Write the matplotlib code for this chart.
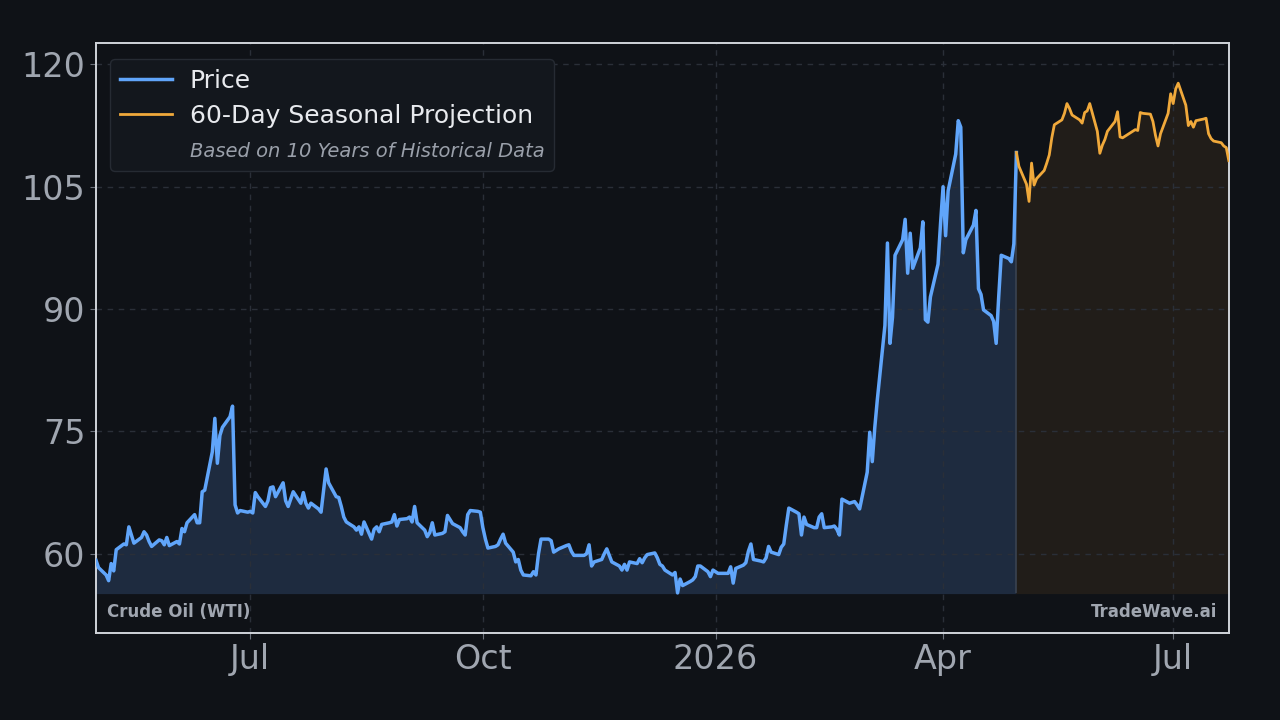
import matplotlib
matplotlib.use("Agg")
import matplotlib.pyplot as plt
import matplotlib.dates as mdates
from matplotlib.lines import Line2D
import pandas as pd

# Daily closes (business days)
price_start = "2025-05-01"
price_values = [
    59.2, 58.3, 57.4, 56.7, 58.8, 57.9, 60.5, 61.2, 61.1, 63.3,
    62.3, 61.3, 62.0, 62.7, 62.3, 61.5, 60.9, 61.7, 61.6, 61.1,
    62.0, 61.0, 61.5, 61.2, 63.1, 62.7, 63.8, 64.8, 63.8, 63.8,
    67.6, 67.8, 72.5, 76.6, 71.1, 74.5, 75.5, 76.8, 78.1, 66.0,
    65.0, 65.3, 65.1, 65.2, 65.0, 67.5, 67.0, 65.8, 66.5, 68.1,
    68.2, 67.0, 68.7, 66.5, 65.8, 66.7, 67.6, 66.2, 67.5, 66.2,
    65.6, 66.2, 65.5, 65.1, 67.8, 70.4, 68.7, 67.0, 66.9, 65.8,
    64.5, 63.9, 63.3, 62.9, 63.3, 62.4, 63.9, 61.8, 63.0, 63.3,
    62.7, 63.6, 63.8, 63.9, 64.8, 63.4, 64.2, 64.3, 64.5, 63.9,
    65.8, 63.8, 62.9, 62.1, 62.6, 63.8, 62.3, 62.5, 62.7, 64.7,
    64.2, 63.7, 63.2, 62.7, 62.3, 64.8, 65.3, 65.2, 65.1, 63.2,
    61.8, 60.7, 60.9, 61.1, 61.8, 62.4, 61.3, 60.2, 59.0, 59.3,
    58.0, 57.4, 57.3, 57.8, 57.4, 60.0, 61.8, 61.8, 61.6, 60.2,
    60.4, 60.6, 61.0, 61.1, 60.3, 59.8, 59.8, 59.8, 60.0, 61.1,
    58.5, 59.0, 59.3, 60.0, 60.6, 59.8, 59.0, 58.5, 58.0, 58.7,
    58.0, 59.0, 58.8, 59.4, 58.9, 59.5, 59.9, 60.1, 59.5, 58.7,
    58.5, 58.0, 57.4, 57.7, 55.2, 56.9, 56.1, 56.6, 56.8, 57.2,
    58.5, 58.5, 57.8, 57.2, 58.0, 57.8, 57.6, 57.6, 57.6, 58.4,
    56.4, 58.2, 58.6, 58.9, 60.3, 61.2, 59.3, 59.1, 59.0, 59.5,
    60.9, 60.2, 59.9, 60.8, 61.2, 63.5, 65.6, 65.1, 64.9, 62.3,
    64.5, 63.6, 63.2, 63.2, 64.5, 64.9, 63.2, 63.3, 63.4, 63.0,
    62.3, 66.7, 66.2, 66.3, 66.4, 66.0, 65.5, 70.0, 74.9, 71.3,
    75.5, 78.9, 88.0, 98.1, 85.8, 89.0, 96.6, 98.5, 101.0, 94.4,
    99.3, 95.0, 97.5, 100.7, 88.7, 88.4, 91.5, 95.5, 100.5, 105.0,
    99.0, 104.5, 109.0, 113.1, 112.3, 96.9, 98.5, 100.3, 102.1, 92.5,
    91.8, 89.9, 89.2, 88.5, 85.8, 91.5, 96.6, 96.2, 95.8, 98.0,
    109.2,
]

# 60-day seasonal projection, first point = last close
proj_values = [
    109.2, 107.5, 105.3, 103.2, 107.9, 105.2, 106.0, 107.0, 107.9, 108.9,
    111.0, 112.6, 113.2, 114.0, 115.2, 114.6, 113.8, 113.2, 112.8, 114.1,
    114.3, 115.2, 111.8, 109.1, 110.1, 110.8, 111.8, 113.0, 114.2, 111.1,
    111.0, 111.2, 111.8, 112.0, 111.9, 114.1, 114.0, 113.9, 113.0, 111.3,
    110.0, 111.5, 114.0, 116.4, 115.2, 117.0, 117.7, 115.0, 112.5, 113.0,
    112.3, 113.1, 113.3, 113.4, 111.5, 110.9, 110.6, 110.4, 110.0, 109.8,
    108.2,
]

y_ticks = [60, 75, 90, 105, 120]

bg = "#0f1217"
blue = "#60a5fa"
orange = "#f0a93b"
grey_text = "#a0a6b0"

price_dates = pd.bdate_range(price_start, periods=len(price_values))
proj_dates = pd.bdate_range(price_dates[-1], periods=len(proj_values))
base = min(price_values)

fig = plt.figure(figsize=(12.8, 7.2), dpi=100, facecolor=bg)
ax = fig.add_axes([0.075, 0.121, 0.885, 0.819])
ax.set_facecolor(bg)

ax.fill_between(price_dates, price_values, base, color="#1e2b3f", zorder=1)
ax.fill_between(proj_dates, proj_values, base, color="#211d19", zorder=1)
ax.vlines(price_dates[-1], base, price_values[-1], color="#3a4250", lw=1.2, zorder=2)
ax.plot(price_dates, price_values, color=blue, lw=2.5, zorder=3)
ax.plot(proj_dates, proj_values, color=orange, lw=2.0, zorder=3)

ax.set_xlim(price_dates[0], proj_dates[-1])
ax.set_ylim(50.3, 122.6)
ax.set_yticks(y_ticks)

ax.xaxis.set_major_locator(mdates.MonthLocator(bymonth=[1, 4, 7, 10]))


def fmt_date(x, pos=None):
    d = mdates.num2date(x)
    return str(d.year) if d.month == 1 else d.strftime("%b")


ax.xaxis.set_major_formatter(plt.FuncFormatter(fmt_date))

ax.grid(True, color="#2a2f38", linestyle=(0, (4, 4)), lw=1.0, zorder=0)
ax.tick_params(colors="#6b717b", labelcolor=grey_text, labelsize=24, length=4)
for s in ax.spines.values():
    s.set_color("#d0d4da")
    s.set_linewidth(1.4)

ax.text(0.01, 0.035, "Crude Oil (WTI)", transform=ax.transAxes, color=grey_text,
        fontsize=12, fontweight="bold", ha="left", va="center")
ax.text(0.99, 0.035, "TradeWave.ai", transform=ax.transAxes, color=grey_text,
        fontsize=12, fontweight="bold", ha="right", va="center")

handles = [
    Line2D([], [], color=blue, lw=2.5),
    Line2D([], [], color=orange, lw=2.0),
    Line2D([], [], color="none"),
]
labels = ["Price", "60-Day Seasonal Projection", "Based on 10 Years of Historical Data"]
leg = ax.legend(handles, labels, loc="upper left", fontsize=18, facecolor="#13171d",
                edgecolor="#262b33", framealpha=1.0, handlelength=2.1, handletextpad=0.7,
                borderpad=0.4, labelspacing=0.45, bbox_to_anchor=(0.001, 0.995))
for t in leg.get_texts():
    t.set_color("#e8eaee")
sub = leg.get_texts()[2]
sub.set_color("#9aa0aa")
sub.set_fontstyle("italic")
sub.set_fontsize(14)

fig.savefig("out.png", dpi=100, facecolor=bg)
